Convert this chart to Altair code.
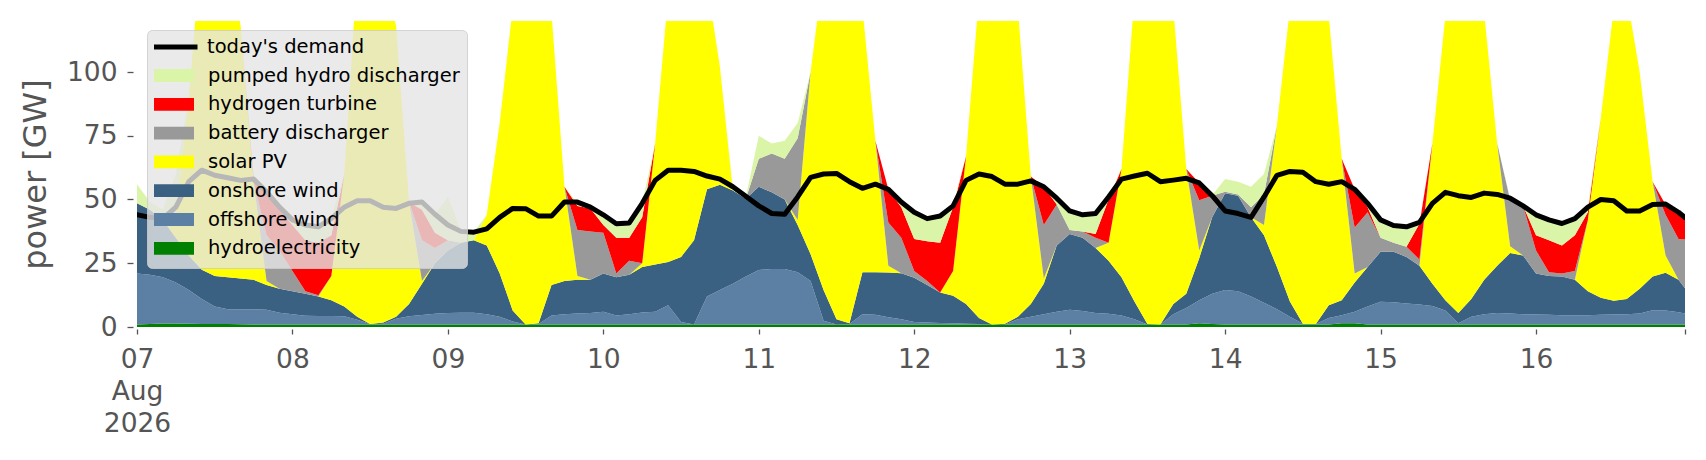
import altair as alt
import pandas as pd

# time index: every 2 hours from 07 Aug 00:00, plus final hour 16 Aug 23:00
hours = list(range(0, 240, 2)) + [239]
start = pd.Timestamp("2026-08-07 00:00")
times = [(start + pd.Timedelta(hours=h)).strftime("%Y-%m-%dT%H:%M:%S") for h in hours]

hydro = [
    1.0, 1.2, 1.4, 1.4, 1.3, 1.2, 1.2, 1.2, 1.1, 1.0, 1.0, 1.0,
    1.0, 1.0, 1.0, 1.0, 1.0, 1.0, 1.0, 1.0, 1.0, 1.0, 1.0, 1.0,
    1.0, 1.0, 1.0, 1.0, 1.0, 1.0, 1.0, 1.0, 1.0, 1.0, 1.0, 1.0,
    1.0, 1.0, 1.0, 1.0, 1.0, 1.0, 1.0, 1.0, 1.0, 1.0, 1.0, 1.0,
    1.0, 1.0, 1.0, 1.0, 1.0, 1.0, 1.0, 1.0, 1.0, 1.0, 1.0, 1.0,
    1.0, 1.0, 1.0, 1.0, 1.0, 1.0, 1.0, 1.0, 1.0, 1.0, 1.0, 1.0,
    1.0, 1.0, 1.0, 1.0, 1.0, 1.0, 1.0, 1.0, 1.0, 1.0, 1.5, 1.2,
    1.0, 1.0, 1.0, 1.0, 1.0, 1.0, 1.0, 1.0, 1.0, 1.5, 1.5, 1.0,
    1.0, 1.0, 1.0, 1.0, 1.0, 1.0, 1.0, 1.0, 1.0, 1.0, 1.0, 1.0,
    1.0, 1.0, 1.0, 1.0, 1.0, 1.0, 1.0, 1.0, 1.0, 1.0, 1.0, 1.0, 1.0,
]
offshore = [
    20.0, 19.3, 18.1, 16.1, 13.2, 9.8, 6.8, 5.8, 5.9, 6.0, 5.8, 4.6,
    4.0, 3.4, 3.3, 3.3, 3.2, 1.8, 0.2, 0.3, 2.2, 3.2, 3.7, 4.2,
    4.5, 4.6, 4.6, 4.0, 3.0, 1.2, 0.0, 0.2, 3.5, 4.0, 4.3, 4.5,
    5.0, 3.5, 4.0, 4.7, 5.0, 7.5, 1.0, 0.0, 11.0, 13.5, 16.0, 18.8,
    21.4, 21.7, 21.7, 20.5, 17.0, 1.5, 0.0, 0.2, 4.0, 3.8, 2.8, 2.0,
    1.0, 0.8, 0.6, 0.5, 0.3, 0.2, 0.0, 0.0, 2.0, 3.0, 4.0, 5.0,
    5.8, 5.3, 4.5, 4.2, 3.5, 2.0, 0.0, 0.0, 4.0, 6.5, 9.0, 11.8,
    13.5, 13.0, 11.0, 8.5, 6.0, 3.0, 0.3, 0.2, 2.5, 3.1, 4.5, 7.0,
    8.9, 8.7, 8.2, 7.8, 7.2, 5.5, 0.5, 3.0, 4.0, 4.5, 4.3, 4.0,
    3.9, 3.8, 3.6, 3.6, 3.6, 3.8, 3.9, 4.0, 4.3, 5.6, 5.5, 4.8, 4.3,
]
onshore = [
    27.5, 25.5, 22.5, 17.5, 13.5, 11.5, 12.0, 12.5, 12.0, 11.5, 9.7, 9.4,
    9.0, 8.6, 7.7, 6.2, 3.8, 1.2, 0.0, 0.5, 0.8, 4.8, 12.3, 19.8,
    24.5, 27.4, 28.4, 27.0, 17.0, 4.3, 0.0, 0.3, 12.0, 13.0, 13.2, 13.0,
    15.0, 15.0, 15.5, 17.8, 18.5, 17.0, 25.5, 33.0, 42.0, 41.3, 36.5, 30.5,
    32.6, 30.1, 27.3, 18.5, 10.5, 12.0, 2.0, 0.3, 16.5, 16.7, 17.6, 18.1,
    17.3, 14.7, 11.9, 10.8, 7.7, 2.3, 0.0, 0.3, 1.0, 5.0, 12.0, 26.0,
    29.7, 28.7, 25.5, 20.8, 15.0, 7.0, 0.2, 0.0, 4.0, 5.5, 16.5, 30.0,
    38.0, 37.5, 31.0, 26.5, 16.5, 6.0, 0.0, 0.0, 5.0, 5.9, 11.5, 15.5,
    19.6, 19.8, 18.3, 15.2, 8.8, 4.0, 4.0, 7.0, 13.5, 18.5, 23.7, 23.0,
    16.1, 15.2, 15.2, 13.9, 9.4, 6.7, 5.4, 6.0, 9.7, 13.2, 14.8, 12.7, 9.9,
]
solar = [
    0, 0, 0, 9, 62, 127.5, 145, 130.5, 99, 38.5, 1.5, 0,
    0, 0, 0, 9.5, 52, 136, 148.8, 138.2, 114, 40, 1, 0,
    0, 0, 0, 12, 59, 118.5, 149, 153.5, 106.5, 37, 1.5, 0,
    0, 0, 0, 1.5, 47.5, 104.5, 117.5, 116, 81, 46.2, 0, 0,
    0, 0, 0, 2, 71.5, 125.5, 147, 143.5, 103.5, 51.5, 2.6, 0,
    0, 0, 0, 9.7, 58, 126.5, 144, 143.7, 121, 50, 2, 0,
    0, 0, 0, 7, 42.5, 120, 143.8, 144, 116, 49, 3, 0,
    0, 0, 0, 4, 55.5, 115, 143.7, 133.8, 113.5, 55.5, 3.5, 0,
    0, 0, 0, 0, 55, 111.5, 139.5, 134, 104.5, 48, 2.7, 0,
    0, 0, 0, 0, 28, 70.5, 114.7, 119, 85, 37.2, 6.7, 0, 0,
]
battery = [
    0, 0, 0, 0, 0, 0, 0, 0, 0, 0, 18, 15,
    8, 1, 0.5, 0, 0, 0, 0, 0, 0, 0, 16, 6,
    4, 0, 0, 0, 0, 0, 0, 0, 0, 0, 18, 19,
    16, 1.5, 5.5, 0, 0, 0, 0, 0, 0, 0, 0, 0,
    11, 15.2, 16, 32, 0, 0, 0, 0, 0, 0, 17, 13.9,
    2.7, 1.5, 0, 0, 0, 0, 0, 0, 0, 0, 21, 16,
    1.5, 2.5, 4, 0, 0, 0, 0, 0, 0, 0, 19.7, 8.5,
    0.5, 0.5, 4, 12, 0, 0, 0, 0, 0, 0, 18, 21.5,
    5.5, 3.5, 4, 2.5, 0, 0, 0, 0, 0, 0, 18.3, 19.5,
    9, 1.5, 1.2, 3.5, 0, 0, 0, 0, 0, 0, 16, 16, 19.1,
]
hydrogen = [
    0, 0, 0, 0, 0, 0, 0, 0, 0, 1.5, 17, 16,
    18, 20, 20.5, 16, 0, 0, 0, 0, 0, 0, 12, 6,
    0, 0, 0, 0, 0, 0, 0, 0, 0, 0, 9.5, 9,
    3, 14, 9, 18, 0, 0, 0, 0, 0, 0, 0, 0,
    0, 0, 0, 0, 0, 0, 0, 0, 0, 0, 13, 12,
    12.5, 15.6, 19.5, 25, 0, 0, 0, 0, 0, 0, 15, 0,
    0, 0, 1.5, 17, 0, 0, 0, 0, 0, 0, 6.8, 0,
    0, 0, 0, 0, 0, 0, 0, 0, 0, 0, 15, 2,
    0, 0, 0, 14, 0, 0, 0, 0, 0, 0, 0, 0,
    6, 12.5, 11, 14, 3, 0, 0, 0, 0, 0, 4, 10.5, 8.6,
]
pumped = [
    7.5, 3, 4, 16, 0, 0, 0, 0, 0, 0, 0, 1,
    2, 6, 6.3, 7, 0, 0, 0, 0, 0, 0, 3, 7.2,
    17, 5, 3.2, 0, 0, 0, 0, 0, 0, 0, 1, 0.5,
    4, 5.5, 6, 5.5, 0, 0, 0, 0, 0, 0, 1, 0.7,
    9, 4, 7, 6, 0, 0, 0, 0, 0, 0, 0, 2,
    10.5, 8.7, 10.5, 1, 0, 0, 0, 0, 0, 0, 0, 2.5,
    7.5, 6.5, 8, 1, 0, 0, 0, 0, 0, 0, 0, 0.2,
    5, 5, 8, 8, 0, 0, 0, 0, 0, 0, 0, 1.5,
    7, 7, 7.8, 0.5, 0, 0, 0, 0, 0, 0, 0.5, 0,
    8, 7.5, 8.6, 6, 2, 0, 0, 0, 0, 0, 0.2, 0, 0,
]
demand = [
    44, 43, 42.5, 47, 57, 61.5, 59.5, 58.5, 57.5, 58, 53, 47,
    42, 40, 39.3, 42.5, 47, 49.5, 49.5, 47, 46.5, 48.5, 49, 44.2,
    40, 37.5, 37.2, 38.5, 43, 46.5, 46.4, 43.5, 43.5, 49, 49, 47,
    44, 40.5, 40.8, 48.5, 57.5, 61.5, 61.5, 61, 59.2, 58, 55, 51.3,
    47.5, 44.5, 44.2, 51, 58.7, 60, 60.2, 57, 54.4, 56, 54, 49,
    45, 42.5, 43.5, 47.5, 57.5, 60, 59, 56, 56, 57.3, 55, 50.5,
    45.5, 44, 44.5, 51, 58, 59.2, 60.3, 57, 57.6, 58.3, 56.5, 51.5,
    45.5, 44.5, 43, 51, 59.5, 61, 60.7, 57, 56, 57, 54, 48.5,
    42, 39.8, 39.3, 41, 48.5, 52.8, 51.5, 50.8, 52.5, 52, 50.5, 47.5,
    44, 42, 40.6, 42.5, 47, 50, 49.5, 45.5, 45.5, 48, 48.2, 45, 42.9,
]

# stack order bottom -> top
series = [
    ("hydroelectricity", hydro),
    ("offshore wind", offshore),
    ("onshore wind", onshore),
    ("solar PV", solar),
    ("battery discharger", battery),
    ("hydrogen turbine", hydrogen),
    ("pumped hydro discharger", pumped),
]
legend_order = ["pumped hydro discharger", "hydrogen turbine", "battery discharger",
                "solar PV", "onshore wind", "offshore wind", "hydroelectricity"]
legend_colors = ["#daf5a8", "#ff0000", "#999999", "#ffff00", "#3b6182", "#5b80a4", "#008000"]

rows = []
for k, (name, vals) in enumerate(series):
    for t, v in zip(times, vals):
        rows.append({"time": t, "carrier": name, "value": v, "stack_order": k})
area_df = pd.DataFrame(rows)
line_df = pd.DataFrame({"time": times, "demand": demand, "label": "today's demand"})

FONT = "DejaVu Sans"
GREY = "#555555"

x_scale = alt.Scale(domain=[alt.DateTime(year=2026, month=8, date=7, hours=0),
                            alt.DateTime(year=2026, month=8, date=16, hours=23)], nice=False)
y_scale = alt.Scale(domain=[0, 120], nice=False, zero=True)

x_axis = alt.Axis(
    values=[alt.DateTime(year=2026, month=8, date=d) for d in range(7, 17)]
    + [alt.DateTime(year=2026, month=8, date=16, hours=23)],
    labelExpr="hours(datum.value) == 23 ? '' : (date(datum.value) == 7 ? ['07', 'Aug', '2026'] : timeFormat(datum.value, '%d'))",
    grid=False, domain=False, tickSize=5, offset=2, tickColor=GREY, tickWidth=1.3,
    labelFontSize=26.5, labelColor=GREY, labelFont=FONT, labelPadding=12,
    labelLineHeight=32, labelFlush=False, labelOverlap=False, labelBound=False,
)
y_axis = alt.Axis(
    values=[0, 25, 50, 75, 100], grid=False, domain=False, tickSize=6, offset=4,
    tickColor=GREY, tickWidth=1.3, labelFontSize=26.5, labelColor=GREY, labelFont=FONT,
    labelPadding=10, titleFontSize=32, titleFont=FONT, titleColor=GREY,
    titleFontWeight="normal", titlePadding=14,
)

areas = alt.Chart(area_df).mark_area(clip=True, interpolate="linear", strokeWidth=0).encode(
    x=alt.X("time:T", scale=x_scale, axis=x_axis, title=None),
    y=alt.Y("value:Q", stack="zero", scale=y_scale, axis=y_axis, title="power [GW]"),
    color=alt.Color(
        "carrier:N",
        scale=alt.Scale(domain=legend_order, range=legend_colors),
        legend=alt.Legend(
            orient="none", legendX=10, legendY=9, direction="vertical",
            title=" ", titleFontSize=19, titlePadding=7.5, titleFont=FONT,
            symbolType="M-1,-0.32H1V0.32H-1Z", symbolSize=1600, symbolStrokeWidth=0,
            symbolOffset=0, labelOffset=14, clipHeight=24, rowPadding=4.8, padding=7,
            labelFontSize=19.5, labelFont=FONT, labelColor="black", labelLimit=400,
            fillColor="rgba(229,229,229,0.8)", strokeColor="rgba(204,204,204,0.8)",
            cornerRadius=5, zindex=1,
        ),
    ),
    order=alt.Order("stack_order:Q", sort="ascending"),
)

line = alt.Chart(line_df).mark_line(clip=True, strokeWidth=5, strokeJoin="round", strokeCap="round").encode(
    x=alt.X("time:T", scale=x_scale, title=None),
    y=alt.Y("demand:Q", scale=y_scale, title="power [GW]"),
    stroke=alt.Stroke(
        "label:N",
        scale=alt.Scale(domain=["today's demand"], range=["black"]),
        legend=alt.Legend(
            orient="none", legendX=10, legendY=7, direction="vertical", title=None,
            symbolType="stroke", symbolSize=1936, symbolStrokeWidth=5, symbolOffset=-3,
            labelOffset=7, clipHeight=24, padding=7, labelFontSize=19.5, labelFont=FONT,
            labelColor="black", labelLimit=400, zindex=2,
        ),
    ),
)

chart = alt.layer(areas, line).properties(
    width=1548, height=306,
    autosize=alt.AutoSizeParams(type="none"),
    padding={"left": 129, "top": 13, "right": 10, "bottom": 125},
).configure(background="white").configure_view(stroke=None)

chart.save("out.html", embed_options={"renderer": "svg", "actions": False})
